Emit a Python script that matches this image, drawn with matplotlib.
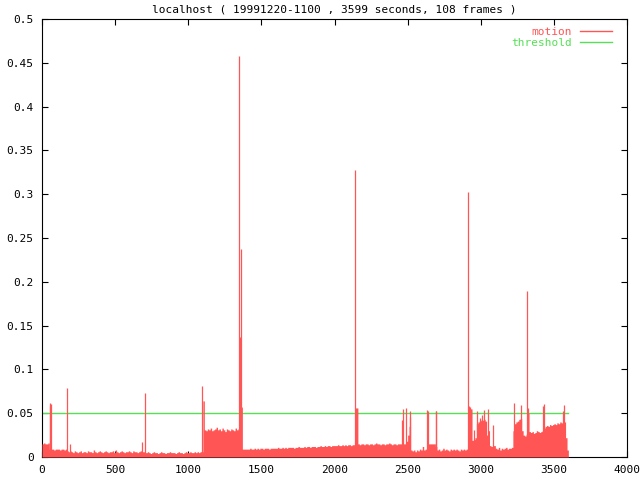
import numpy as np
import matplotlib
matplotlib.use("Agg")
import matplotlib.pyplot as plt
from matplotlib.lines import Line2D
from matplotlib.ticker import FormatStrFormatter

# ---- data ----
title = "localhost ( 19991220-1100 , 3599 seconds, 108 frames )"
step_seconds = 10
end_second = 3599
threshold = 0.05

# motion level, one value per 10-second bin starting at t=0
motion_base = [
    0.015, 0.016, 0.015, 0.015, 0.016, 0.009, 0.009, 0.009, 0.008, 0.009,
    0.009, 0.009, 0.008, 0.009, 0.009, 0.008, 0.009, 0.007, 0.006, 0.007,
    0.006, 0.005, 0.007, 0.006, 0.005, 0.006, 0.007, 0.005, 0.006, 0.006,
    0.005, 0.007, 0.006, 0.006, 0.005, 0.008, 0.006, 0.005, 0.006, 0.007,
    0.006, 0.005, 0.006, 0.007, 0.006, 0.005, 0.006, 0.006, 0.007, 0.005,
    0.008, 0.006, 0.005, 0.006, 0.007, 0.006, 0.005, 0.006, 0.006, 0.007,
    0.006, 0.005, 0.007, 0.006, 0.006, 0.005, 0.006, 0.007, 0.006, 0.006,
    0.005, 0.005, 0.006, 0.005, 0.004, 0.005, 0.006, 0.005, 0.005, 0.004,
    0.005, 0.006, 0.005, 0.005, 0.004, 0.005, 0.005, 0.006, 0.005, 0.005,
    0.005, 0.004, 0.005, 0.006, 0.005, 0.005, 0.004, 0.005, 0.006, 0.005,
    0.005, 0.006, 0.005, 0.005, 0.006, 0.005, 0.006, 0.005, 0.006, 0.006,
    0.064, 0.031, 0.030, 0.032, 0.031, 0.033, 0.030, 0.031, 0.032, 0.034,
    0.031, 0.032, 0.030, 0.033, 0.031, 0.029, 0.032, 0.031, 0.030, 0.032,
    0.031, 0.030, 0.033, 0.031, 0.032, 0.137, 0.057, 0.009, 0.009, 0.009,
    0.009, 0.009, 0.010, 0.009, 0.009, 0.010, 0.009, 0.010, 0.009, 0.010,
    0.010, 0.009, 0.010, 0.010, 0.010, 0.009, 0.010, 0.010, 0.010, 0.010,
    0.010, 0.011, 0.010, 0.010, 0.011, 0.010, 0.011, 0.010, 0.011, 0.011,
    0.011, 0.011, 0.010, 0.011, 0.011, 0.012, 0.011, 0.011, 0.011, 0.012,
    0.011, 0.012, 0.012, 0.011, 0.012, 0.012, 0.012, 0.011, 0.012, 0.012,
    0.013, 0.012, 0.012, 0.013, 0.012, 0.013, 0.013, 0.012, 0.013, 0.013,
    0.013, 0.013, 0.014, 0.013, 0.013, 0.014, 0.013, 0.014, 0.013, 0.014,
    0.014, 0.013, 0.014, 0.014, 0.056, 0.056, 0.015, 0.014, 0.015, 0.015,
    0.014, 0.015, 0.015, 0.014, 0.015, 0.015, 0.014, 0.015, 0.016, 0.015,
    0.015, 0.014, 0.015, 0.015, 0.014, 0.015, 0.015, 0.016, 0.015, 0.014,
    0.015, 0.015, 0.014, 0.015, 0.015, 0.015, 0.015, 0.015, 0.015, 0.018,
    0.025, 0.035, 0.008, 0.007, 0.008, 0.006, 0.008, 0.007, 0.009, 0.008,
    0.012, 0.008, 0.009, 0.015, 0.015, 0.015, 0.015, 0.015, 0.015, 0.012,
    0.008, 0.009, 0.007, 0.008, 0.010, 0.008, 0.009, 0.008, 0.007, 0.009,
    0.008, 0.009, 0.008, 0.009, 0.008, 0.007, 0.009, 0.008, 0.009, 0.008,
    0.009, 0.008, 0.052, 0.055, 0.019, 0.020, 0.022, 0.038, 0.040, 0.041,
    0.042, 0.042, 0.043, 0.041, 0.025, 0.030, 0.013, 0.012, 0.013, 0.013,
    0.010, 0.009, 0.011, 0.008, 0.010, 0.009, 0.010, 0.011, 0.009, 0.010,
    0.010, 0.011, 0.030, 0.038, 0.040, 0.041, 0.043, 0.044, 0.030, 0.025,
    0.024, 0.026, 0.050, 0.029, 0.028, 0.029, 0.027, 0.028, 0.030, 0.029,
    0.028, 0.029, 0.030, 0.033, 0.035, 0.036, 0.035, 0.037, 0.036, 0.037,
    0.038, 0.037, 0.039, 0.038, 0.040, 0.039, 0.045, 0.040, 0.022, 0.008,
]

# narrow motion peaks (second, value)
spike_seconds = [53, 57, 61, 173, 191, 686, 704, 1096, 1349, 1361,
                 2142, 2462, 2471, 2491, 2514, 2518, 2634, 2637, 2692, 2697,
                 2915, 2918, 2925, 2935, 2957, 2976, 2995, 3008, 3022, 3052,
                 3086, 3229, 3277, 3319, 3325, 3423, 3434, 3565, 3569]
spike_values = [0.058, 0.062, 0.060, 0.079, 0.015, 0.017, 0.073, 0.081, 0.458, 0.238,
                0.328, 0.042, 0.055, 0.056, 0.052, 0.046, 0.054, 0.052, 0.052, 0.052,
                0.303, 0.058, 0.057, 0.054, 0.031, 0.052, 0.045, 0.048, 0.054, 0.055,
                0.036, 0.062, 0.059, 0.190, 0.056, 0.058, 0.061, 0.053, 0.059]

x_ticks = [0, 500, 1000, 1500, 2000, 2500, 3000, 3500, 4000]
y_ticks = [0, 0.05, 0.1, 0.15, 0.2, 0.25, 0.3, 0.35, 0.4, 0.45, 0.5]

RED = "#ff5555"
GREEN = "#55e055"

plt.rcParams["font.family"] = ["DejaVu Sans Mono"]
plt.rcParams["font.size"] = 8

fig = plt.figure(figsize=(6.4, 4.8), dpi=100)
ax = fig.add_axes([42 / 640, 1 - 457 / 480, 585 / 640, 438 / 480])

t = np.arange(len(motion_base)) * step_seconds
t_full = np.append(t, end_second)
v_full = np.append(motion_base, motion_base[-1])

ax.plot([0, end_second], [threshold, threshold], color=GREEN, lw=1.0, zorder=2)
ax.fill_between(t_full, v_full, step="post", color=RED, lw=0, zorder=3)
ax.vlines(spike_seconds, 0, spike_values, color=RED, lw=0.9, zorder=3)

ax.set_xlim(0, 4000)
ax.set_ylim(0, 0.5)
ax.set_xticks(x_ticks)
ax.set_yticks(y_ticks)
ax.yaxis.set_major_formatter(FormatStrFormatter("%g"))
ax.tick_params(direction="in", top=True, right=True, length=4.5, width=0.8,
               labelsize=8, pad=6)
for s in ax.spines.values():
    s.set_linewidth(0.8)

fig.text(334.5 / 640, 1 - 10 / 480, title, ha="center", va="center", fontsize=8)

handles = [Line2D([], [], color=RED, lw=1.0), Line2D([], [], color=GREEN, lw=1.0)]
ax.legend(handles, ["motion", "threshold"], loc="upper right",
          bbox_to_anchor=((612 - 42) / 585, (457 - 27) / 438),
          frameon=False, markerfirst=False, labelcolor=[RED, GREEN],
          handlelength=2.9, handletextpad=0.7, borderpad=0, borderaxespad=0,
          labelspacing=0.05, fontsize=8)

fig.savefig("out.png", dpi=100)
